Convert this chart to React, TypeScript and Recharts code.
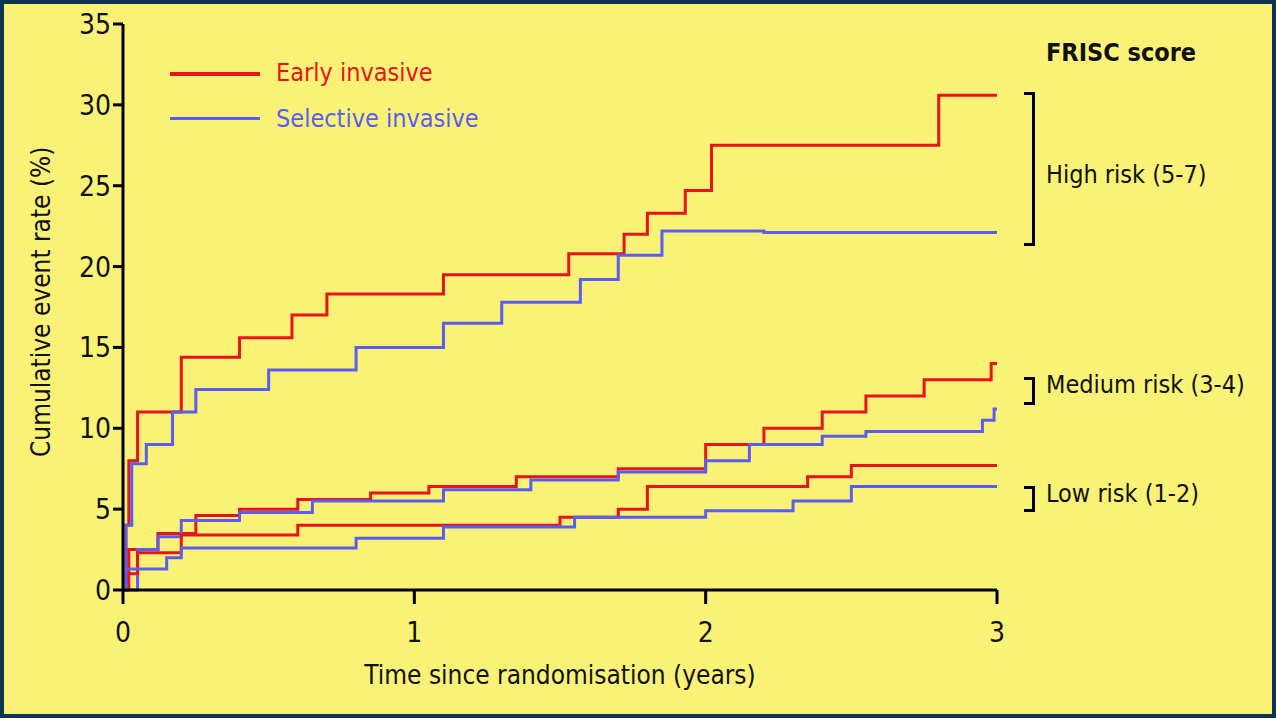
import { LineChart, Line, XAxis, YAxis } from "recharts";

const highEarly = [
  [0, 0], [0.01, 4], [0.02, 8], [0.05, 11], [0.2, 14.4], [0.4, 15.6], [0.58, 17], [0.7, 18.3],
  [1.1, 19.5], [1.53, 20.8], [1.72, 22], [1.8, 23.3], [1.93, 24.7], [2.02, 27.5], [2.8, 30.6], [3, 30.6],
];
const highSelective = [
  [0, 0], [0.01, 4], [0.03, 7.8], [0.08, 9], [0.17, 11], [0.25, 12.4], [0.5, 13.6], [0.8, 15],
  [1.1, 16.5], [1.3, 17.8], [1.57, 19.2], [1.7, 20.7], [1.85, 22.2], [2.2, 22.1], [3, 22.1],
];
const mediumEarly = [
  [0, 0], [0.02, 2.5], [0.12, 3.5], [0.25, 4.6], [0.4, 5], [0.6, 5.6], [0.85, 6], [1.05, 6.4],
  [1.35, 7], [1.7, 7.5], [2.0, 9], [2.2, 10], [2.4, 11], [2.55, 12], [2.75, 13], [2.98, 14], [3, 14],
];
const mediumSelective = [
  [0, 0], [0.05, 2.5], [0.12, 3.3], [0.2, 4.3], [0.4, 4.8], [0.65, 5.5], [1.1, 6.2], [1.4, 6.8],
  [1.7, 7.3], [2.0, 8], [2.15, 9], [2.4, 9.5], [2.55, 9.8], [2.95, 10.5], [2.99, 11.2], [3, 11.2],
];
const lowEarly = [
  [0, 0], [0.01, 1], [0.05, 2.3], [0.2, 3.4], [0.6, 4], [1.5, 4.5], [1.7, 5], [1.8, 6.4],
  [2.35, 7], [2.5, 7.7], [3, 7.7],
];
const lowSelective = [
  [0, 0], [0.01, 1.3], [0.15, 2], [0.2, 2.6], [0.8, 3.2], [1.1, 3.9], [1.55, 4.5], [2.0, 4.9],
  [2.3, 5.5], [2.5, 6.4], [3, 6.4],
];
const xTicks = [0, 1, 2, 3];
const yTicks = [0, 5, 10, 15, 20, 25, 30, 35];

const RED = "#e8141c";
const BLUE = "#5a5ef0";
const FONT = "'DejaVu Sans Condensed', 'DejaVu Sans', sans-serif";

const toRows = (pts: number[][]) => pts.map(([x, y]) => ({ x, y }));

const series = [
  { id: "he", data: highEarly, color: RED },
  { id: "hs", data: highSelective, color: BLUE },
  { id: "me", data: mediumEarly, color: RED },
  { id: "ms", data: mediumSelective, color: BLUE },
  { id: "le", data: lowEarly, color: RED },
  { id: "ls", data: lowSelective, color: BLUE },
];

function XTick(props: any) {
  const { x, y, payload } = props;
  return (
    <text x={x} y={y + 36} textAnchor="middle" fontSize={28} fill="#111" fontFamily={FONT}>
      {payload.value}
    </text>
  );
}

function Bracket({ top, bottom }: { top: number; bottom: number }) {
  return (
    <div
      style={{
        position: "absolute", left: 1020, top, height: bottom - top, width: 8,
        borderTop: "3px solid #000", borderRight: "3px solid #000", borderBottom: "3px solid #000",
      }}
    />
  );
}

const label = (top: number, text: string, bold = false) => (
  <div style={{ position: "absolute", left: 1042, top, fontSize: 25, fontWeight: bold ? 700 : 400, color: "#111" }}>
    {text}
  </div>
);

export default function App() {
  return (
    <div
      style={{
        position: "absolute", left: 0, top: 0, width: 1276, height: 718, boxSizing: "border-box",
        background: "#f9f277", border: "4px solid #0d3552", fontFamily: FONT, overflow: "hidden",
      }}
    >
      <div style={{ position: "absolute", left: -4, top: -4 }}>
        <LineChart width={1276} height={718} margin={{ top: 24, right: 279, bottom: 98, left: 63 }}>
          <XAxis
            type="number" dataKey="x" domain={[0, 3]} ticks={xTicks} allowDuplicatedCategory={false}
            stroke="#000" strokeWidth={3} tickSize={14} tick={<XTick />}
            label={{ value: "Time since randomisation (years)", position: "insideBottom", offset: -64, fontSize: 26, fill: "#111" }}
          />
          <YAxis
            type="number" domain={[0, 35]} ticks={yTicks} width={60} interval={0}
            stroke="#000" strokeWidth={3} tickSize={10}
            tick={{ fontSize: 28, fill: "#111", fontFamily: FONT }}
            label={{ value: "Cumulative event rate (%)", angle: -90, position: "insideLeft", offset: -22, dy: 150, fontSize: 26, fill: "#111" }}
          />
          {series.map((s) => (
            <Line
              key={s.id} data={toRows(s.data)} dataKey="y" type="stepAfter"
              stroke={s.color} strokeWidth={3} dot={false} isAnimationActive={false}
            />
          ))}
        </LineChart>
      </div>
      <div style={{ position: "absolute", left: 166, top: 68, width: 90, height: 4, background: RED }} />
      <div style={{ position: "absolute", left: 272, top: 54, fontSize: 25, color: RED }}>Early invasive</div>
      <div style={{ position: "absolute", left: 166, top: 113, width: 90, height: 3, background: BLUE }} />
      <div style={{ position: "absolute", left: 272, top: 100, fontSize: 25, color: BLUE }}>Selective invasive</div>
      {label(34, "FRISC score", true)}
      <Bracket top={88} bottom={236} />
      {label(156, "High risk (5-7)")}
      <Bracket top={373} bottom={395} />
      {label(366, "Medium risk (3-4)")}
      <Bracket top={482} bottom={502} />
      {label(475, "Low risk (1-2)")}
    </div>
  );
}
